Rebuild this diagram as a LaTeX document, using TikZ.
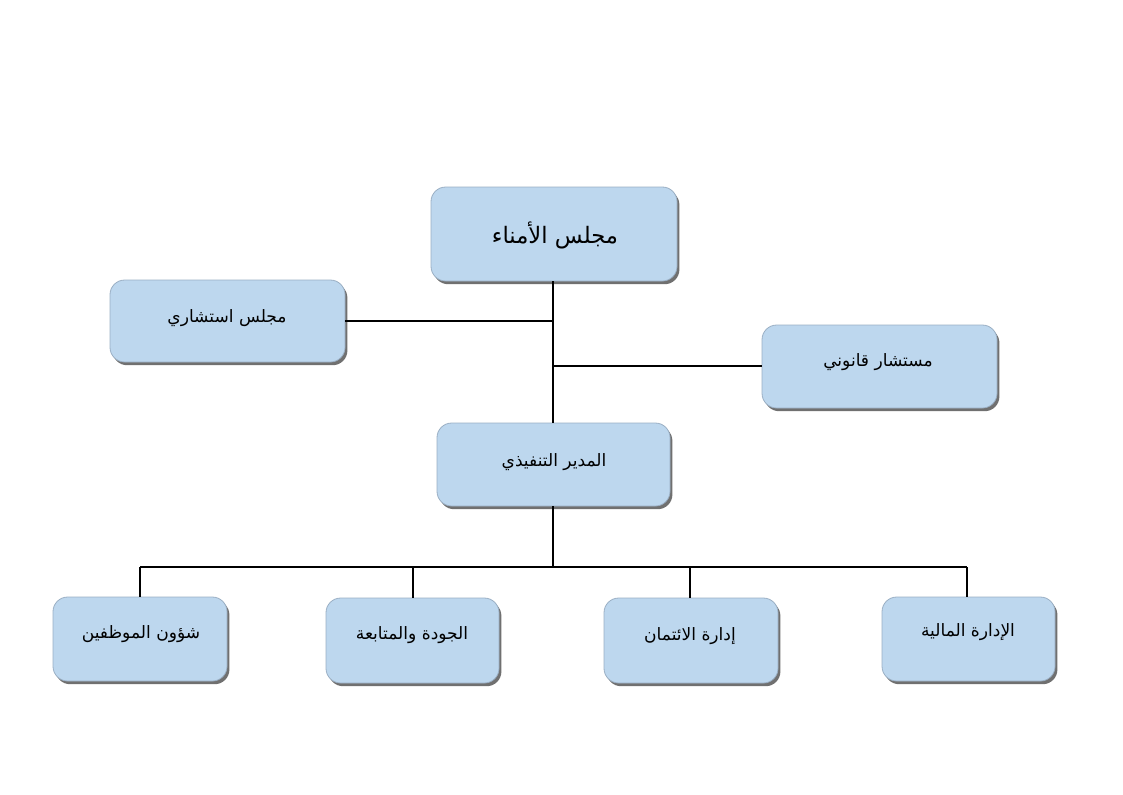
\documentclass[tikz,border=0pt]{standalone}
\usepackage{fontspec}
\usetikzlibrary{shadows}
\TeXXeTstate=1
\newfontfamily\arabicfont[Script=Arabic]{DejaVu Sans}
\definecolor{boxfill}{HTML}{BDD7EE}
\definecolor{boxline}{HTML}{9AAFC4}
\tikzset{
  orgbox/.style={draw=boxline, line width=0.6pt, fill=boxfill, rounded corners=11pt,
    inner sep=0pt, text depth=0pt,
    drop shadow={shadow xshift=1.8pt, shadow yshift=-2.4pt, fill=black!70, opacity=0.8}},
  link/.style={draw=black, line width=1.1pt},
  lbl/.style={font=\arabicfont\fontsize{12.8}{15}\selectfont, inner sep=0pt}
}
\begin{document}
\begin{tikzpicture}[x=0.75pt, y=-0.75pt]
\useasboundingbox (0,0) rectangle (1123,794);
% boxes
\node[orgbox, minimum width=246*0.75pt, minimum height=94*0.75pt] (board) at (554,234) {};
\node[orgbox, minimum width=235*0.75pt, minimum height=82*0.75pt] (advisory) at (227.5,321) {};
\node[orgbox, minimum width=235*0.75pt, minimum height=83*0.75pt] (legal) at (879.5,366.5) {};
\node[orgbox, minimum width=233*0.75pt, minimum height=83*0.75pt] (exec) at (553.5,464.5) {};
\node[orgbox, minimum width=174*0.75pt, minimum height=84*0.75pt] (hr) at (140,639) {};
\node[orgbox, minimum width=173*0.75pt, minimum height=85*0.75pt] (quality) at (412.5,640.5) {};
\node[orgbox, minimum width=174*0.75pt, minimum height=85*0.75pt] (credit) at (691,640.5) {};
\node[orgbox, minimum width=173*0.75pt, minimum height=84*0.75pt] (finance) at (968.5,639) {};
% labels
\node[lbl, font=\arabicfont\fontsize{17}{19}\selectfont] (tboard) at (555,235) {\beginR مجلس الأمناء\endR};
\node[lbl] (tadvisory) at (227,318) {\beginR مجلس استشاري\endR};
\node[lbl] (tlegal) at (878,362) {\beginR مستشار قانوني\endR};
\node[lbl] (texec) at (554,462) {\beginR المدير التنفيذي\endR};
\node[lbl] (thr) at (141,634) {\beginR شؤون الموظفين\endR};
\node[lbl] (tquality) at (412,635) {\beginR الجودة والمتابعة\endR};
\node[lbl] (tcredit) at (690,636) {\beginR إدارة الائتمان\endR};
\node[lbl] (tfinance) at (968,632) {\beginR الإدارة المالية\endR};
% junctions
\coordinate (jadv) at (553,321);
\coordinate (jleg) at (553,366);
\coordinate (jbus) at (553,567);
\coordinate (bhr) at (140,567);
\coordinate (bq) at (413,567);
\coordinate (bc) at (690,567);
\coordinate (bf) at (967,567);
% connectors
\draw[link] (board.south -| jadv) -- (exec.north -| jadv);
\draw[link] (advisory.east |- jadv) -- (jadv);
\draw[link] (jleg) -- (legal.west |- jleg);
\draw[link] (exec.south -| jbus) -- (jbus);
\draw[link] (bhr) -- (bf);
\draw[link] (bhr) -- (hr.north -| bhr);
\draw[link] (bq) -- (quality.north -| bq);
\draw[link] (bc) -- (credit.north -| bc);
\draw[link] (bf) -- (finance.north -| bf);
\end{tikzpicture}
\end{document}
